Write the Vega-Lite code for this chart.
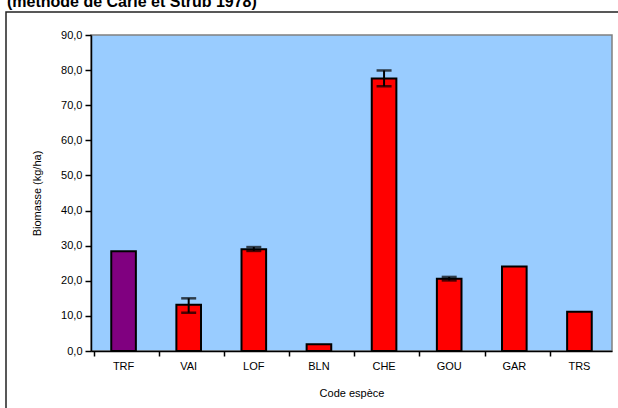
{
  "$schema": "https://vega.github.io/schema/vega-lite/v6.json",
  "width": 521,
  "height": 316,
  "autosize": "none",
  "padding": {"left": 91, "top": 35, "right": 6, "bottom": 57},
  "background": "white",
  "title": {
    "text": "(méthode de Carle et Strub 1978)",
    "anchor": "start",
    "frame": "group",
    "dx": -84,
    "dy": 17,
    "offset": 5,
    "baseline": "alphabetic",
    "font": "Arial, Liberation Sans",
    "fontSize": 16,
    "fontWeight": "bold",
    "color": "black"
  },
  "data": {
    "values": [
      {"espece": "TRF", "biomasse": 28.4, "groupe": "a", "lo": null, "hi": null},
      {"espece": "VAI", "biomasse": 13.2, "groupe": "b", "lo": 10.9, "hi": 15.0},
      {"espece": "LOF", "biomasse": 29.0, "groupe": "b", "lo": 28.5, "hi": 29.6},
      {"espece": "BLN", "biomasse": 1.9, "groupe": "b", "lo": null, "hi": null},
      {"espece": "CHE", "biomasse": 77.6, "groupe": "b", "lo": 75.4, "hi": 79.9},
      {"espece": "GOU", "biomasse": 20.6, "groupe": "b", "lo": 20.1, "hi": 21.1},
      {"espece": "GAR", "biomasse": 24.1, "groupe": "b", "lo": null, "hi": null},
      {"espece": "TRS", "biomasse": 11.2, "groupe": "b", "lo": null, "hi": null}
    ]
  },
  "layer": [
    {
      "mark": {"type": "bar", "width": {"band": 0.42}, "stroke": "black", "strokeWidth": 2},
      "encoding": {
        "x": {
          "field": "espece",
          "type": "nominal",
          "sort": null,
          "title": "Code espèce",
          "axis": {
            "ticks": false,
            "labelAngle": 0,
            "labelPadding": 9,
            "titlePadding": 16,
            "domainColor": "black",
            "domainWidth": 1.5
          }
        },
        "y": {
          "field": "biomasse",
          "type": "quantitative",
          "title": "Biomasse (kg/ha)",
          "scale": {"domain": [0, 90], "nice": false, "zero": true},
          "axis": {
            "values": [0, 10, 20, 30, 40, 50, 60, 70, 80, 90],
            "labelExpr": "replace(format(datum.value, '.1f'), '.', ',')",
            "grid": false,
            "tickSize": 6,
            "tickColor": "black",
            "tickWidth": 1.5,
            "domainColor": "black",
            "domainWidth": 1.5,
            "labelPadding": 3,
            "titlePadding": 18
          }
        },
        "color": {
          "field": "groupe",
          "type": "nominal",
          "scale": {"domain": ["a", "b"], "range": ["#800080", "#FF0000"]},
          "legend": {
            "orient": "none",
            "legendX": -85,
            "legendY": -23,
            "title": null,
            "padding": 300,
            "strokeColor": "#222222",
            "fillColor": null,
            "symbolOpacity": 0,
            "labelOpacity": 0,
            "zindex": 0
          }
        }
      }
    },
    {
      "mark": {"type": "rule", "color": "black", "strokeWidth": 2},
      "encoding": {
        "x": {
          "field": "espece",
          "type": "nominal",
          "sort": null,
          "title": null,
          "axis": {
            "orient": "bottom",
            "labels": false,
            "domain": false,
            "ticks": true,
            "tickSize": 5,
            "tickColor": "black",
            "tickWidth": 1.5,
            "bandPosition": 0
          }
        },
        "y": {
          "field": "lo",
          "type": "quantitative",
          "title": "Biomasse (kg/ha)",
          "axis": {
            "values": [0, 10, 20, 30, 40, 50, 60, 70, 80, 90],
            "labelExpr": "replace(format(datum.value, '.1f'), '.', ',')",
            "grid": false,
            "tickSize": 6,
            "tickColor": "black",
            "tickWidth": 1.5,
            "domainColor": "black",
            "domainWidth": 1.5,
            "labelPadding": 3,
            "titlePadding": 18
          }
        },
        "y2": {"field": "hi"}
      }
    },
    {
      "mark": {"type": "tick", "color": "black", "size": 15, "thickness": 2.5},
      "encoding": {
        "x": {"field": "espece", "type": "nominal", "sort": null, "axis": null},
        "y": {
          "field": "lo",
          "type": "quantitative",
          "title": "Biomasse (kg/ha)",
          "axis": {
            "values": [0, 10, 20, 30, 40, 50, 60, 70, 80, 90],
            "labelExpr": "replace(format(datum.value, '.1f'), '.', ',')",
            "grid": false,
            "tickSize": 6,
            "tickColor": "black",
            "tickWidth": 1.5,
            "domainColor": "black",
            "domainWidth": 1.5,
            "labelPadding": 3,
            "titlePadding": 18
          }
        }
      }
    },
    {
      "mark": {"type": "tick", "color": "black", "size": 15, "thickness": 2.5},
      "encoding": {
        "x": {"field": "espece", "type": "nominal", "sort": null, "axis": null},
        "y": {
          "field": "hi",
          "type": "quantitative",
          "title": "Biomasse (kg/ha)",
          "axis": {
            "values": [0, 10, 20, 30, 40, 50, 60, 70, 80, 90],
            "labelExpr": "replace(format(datum.value, '.1f'), '.', ',')",
            "grid": false,
            "tickSize": 6,
            "tickColor": "black",
            "tickWidth": 1.5,
            "domainColor": "black",
            "domainWidth": 1.5,
            "labelPadding": 3,
            "titlePadding": 18
          }
        }
      }
    }
  ],
  "resolve": {"axis": {"x": "independent"}},
  "config": {
    "view": {"fill": "#99CCFF", "stroke": "#808080", "strokeWidth": 1.5},
    "legend": {"strokeWidth": 1.5},
    "axis": {
      "labelFont": "Arial, Liberation Sans",
      "titleFont": "Arial, Liberation Sans",
      "labelFontSize": 11,
      "titleFontSize": 11,
      "titleFontWeight": "normal",
      "labelColor": "black",
      "titleColor": "black"
    }
  }
}
